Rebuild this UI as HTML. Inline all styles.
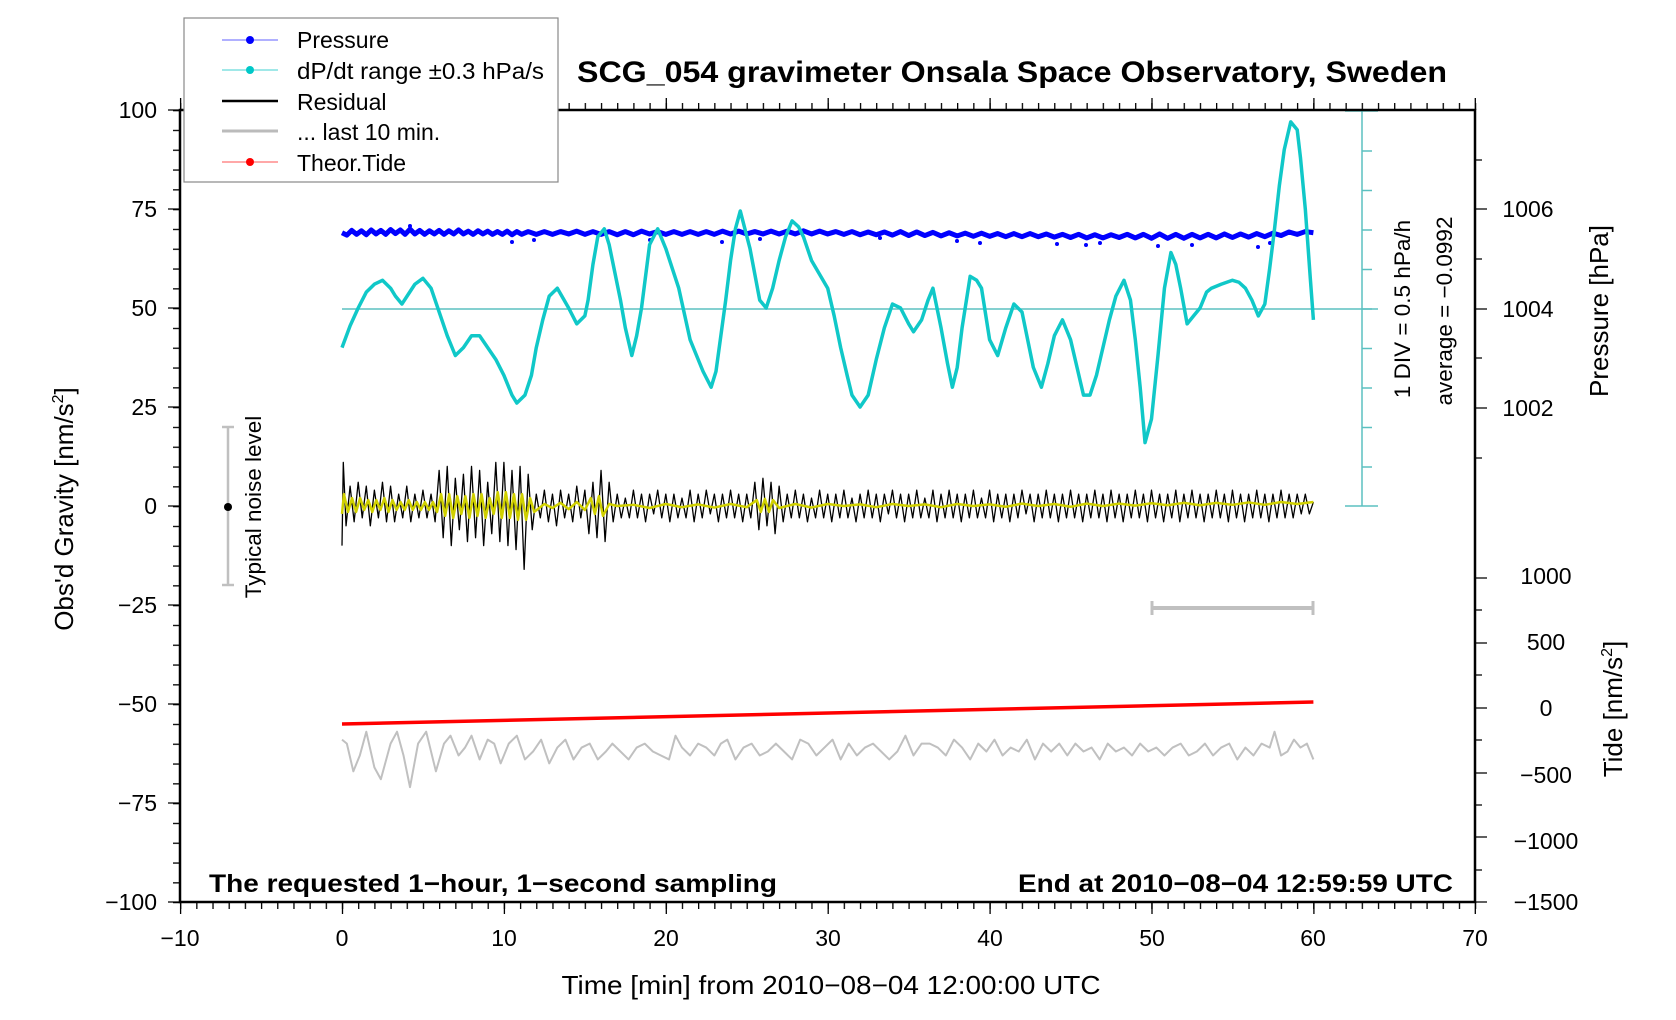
<!DOCTYPE html>
<html><head><meta charset="utf-8"><style>
html,body{margin:0;padding:0;background:#fff;}
svg{display:block;font-family:"Liberation Sans",Arial,sans-serif;}
.n{vector-effect:non-scaling-stroke;fill:none;stroke-linejoin:round;}
</style></head><body>
<svg width="1676" height="1020" viewBox="0 0 1676 1020" xmlns="http://www.w3.org/2000/svg">
<rect width="1676" height="1020" fill="#fff"/>
<defs>
<pattern id="px" x="180" y="0" width="16.1875" height="20" patternUnits="userSpaceOnUse"><rect x="0" y="0" width="1.3" height="20" fill="#000"/></pattern>
<pattern id="py" x="0" y="110" width="20" height="19.8" patternUnits="userSpaceOnUse"><rect x="0" y="0" width="20" height="1.3" fill="#000"/></pattern>
<pattern id="pt" x="0" y="110.75" width="20" height="39.5" patternUnits="userSpaceOnUse"><rect x="0" y="0" width="20" height="1.5" fill="#5cc0c0"/></pattern>
</defs>

<g stroke="#5cc0c0" stroke-width="1.5">
<line x1="342" y1="309" x2="1378" y2="309"/>
<line x1="1362" y1="111" x2="1362" y2="506"/>
<line x1="1345" y1="111" x2="1378" y2="111"/>
<line x1="1345" y1="506" x2="1378" y2="506"/>
</g>
<rect x="1362" y="140" width="10" height="360" fill="url(#pt)"/>

<g stroke="#c0c0c0" stroke-width="2.5">
<line x1="228" y1="427" x2="228" y2="585"/><line x1="222" y1="427" x2="234" y2="427"/><line x1="222" y1="585" x2="234" y2="585"/>
</g>
<circle cx="228" cy="507" r="4" fill="#000"/>
<g stroke="#c0c0c0"><line x1="1152" y1="608" x2="1313" y2="608" stroke-width="4"/><line x1="1152" y1="601" x2="1152" y2="615" stroke-width="3"/><line x1="1313" y1="601" x2="1313" y2="615" stroke-width="3"/></g>

<!-- pressure scatter dots -->
<g fill="#0000ff">
<circle cx="512" cy="242" r="2"/><circle cx="534" cy="240" r="2"/><circle cx="722" cy="242" r="2"/><circle cx="760" cy="239" r="2"/>
<circle cx="957" cy="241" r="2"/><circle cx="980" cy="243" r="2"/><circle cx="1086" cy="245" r="2"/><circle cx="1100" cy="243" r="2"/>
<circle cx="1158" cy="246" r="2"/><circle cx="1192" cy="245" r="2"/><circle cx="1258" cy="247" r="2"/><circle cx="1270" cy="243" r="2"/>
<circle cx="1057" cy="244" r="2"/><circle cx="880" cy="238" r="2"/><circle cx="410" cy="226" r="2"/><circle cx="650" cy="240" r="2"/>
</g>

<g transform="matrix(16.19 0 0 -3.96 342 506)">
<polyline class="n" stroke="#0000ff" stroke-width="5" points="0,69 0.3,68.4 0.6,69.6 0.9,68.6 1.2,69.5 1.5,68.5 1.8,69.7 2.1,68.7 2.4,69.6 2.7,68.6 3,69.8 3.3,68.8 3.6,69.7 3.9,68.6 4.2,69.9 4.5,68.7 4.8,69.6 5.1,68.6 5.4,69.5 5.7,68.7 6,69.6 6.3,68.6 6.6,69.5 6.9,68.7 7.2,69.7 7.5,68.7 7.8,69.4 8.1,68.6 8.4,69.5 8.7,68.7 9,69.4 9.3,68.6 9.6,69.3 9.9,68.6 10.2,69.4 10.5,68.5 10.8,69.3 11.1,68.6 11.5,69.3 12,68.6 12.5,69.3 13,68.6 13.5,69.3 14,68.7 14.5,69.4 15,68.6 15.5,69.3 16,68.6 16.5,69.3 17,68.5 17.5,69.3 18,68.5 18.5,69.4 19,68.7 19.5,69.3 20,68.6 20.5,69.3 21,68.6 21.5,69.3 22,68.6 22.5,69.3 23,68.6 23.5,69.4 24,68.7 24.5,69.4 25,68.7 25.5,69.3 26,68.7 26.5,69.4 27,68.7 27.5,69.4 28,68.7 28.5,69.5 29,68.7 29.5,69.4 30,68.7 30.5,69.3 31,68.6 31.5,69.3 32,68.5 32.5,69.2 33,68.5 33.5,69.2 34,68.4 34.5,69.3 35,68.3 35.5,69.2 36,68.3 36.5,69.1 37,68.2 37.5,69 38,68.2 38.5,68.9 39,68.1 39.5,68.9 40,68.1 40.5,68.8 41,68 41.5,68.8 42,68 42.5,68.8 43,68 43.5,68.7 44,67.9 44.5,68.6 45,67.8 45.5,68.6 46,67.7 46.5,68.5 47,67.7 47.5,68.5 48,67.8 48.5,68.6 49,67.7 49.5,68.6 50,67.6 50.5,68.7 51,67.6 51.5,68.6 52,67.6 52.5,68.6 53,67.7 53.5,68.6 54,67.7 54.5,68.7 55,67.8 55.5,68.7 56,67.9 56.5,68.8 57,68 57.5,68.9 58,68.3 58.5,69.2 59,68.6 59.5,69.3 60,69"/>
<polyline class="n" stroke="#10c8c8" stroke-width="3.5" points="0,40 0.5,45.5 1,50 1.5,54 2,56 2.5,57 3,55 3.3,53 3.7,51 4.1,53.5 4.5,56 5,57.5 5.5,55 6,49 6.5,43 7,38 7.5,40 8,43 8.5,43 9,40 9.5,37 10,33 10.5,28 10.8,26 11.3,28 11.7,33 12,40 12.4,47 12.8,53 13.3,55 14,50 14.5,46 15,48 15.2,52 15.5,61 15.8,68 16.2,70 16.5,66 16.8,60 17.2,52 17.5,45 17.9,38 18.2,43 18.5,50 19,66 19.5,70 20,65 20.4,60 20.8,55 21.5,42 22,37 22.3,34 22.8,30 23.1,34 23.3,40 23.7,52 24,62 24.3,70 24.6,74.5 25.2,65 25.8,52 26.2,50 26.6,55 27,62 27.4,68 27.8,72 28.2,70.5 28.5,68 29,62 29.5,58.5 30,55 30.4,48 30.8,40 31.2,33 31.5,28 32,25 32.5,28 33,37 33.5,45 34,51 34.5,50 35,46 35.3,44 35.8,47 36.2,52 36.5,55 37,45 37.4,36 37.7,30 38,35 38.3,45 38.8,58 39.2,57 39.5,55 40,42 40.5,38 41,45 41.5,51 42,49 42.4,41 42.7,35 43.2,30 43.6,36 44,43 44.5,47 45,42 45.4,35 45.8,28 46.2,28 46.6,33 47,40 47.4,47 47.8,53 48.3,57 48.7,52 49,42 49.3,30 49.6,16 50,22 50.4,38 50.8,55 51.2,64 51.5,61 51.8,55 52.2,46 52.6,48 53,50 53.4,54 53.7,55 54.3,56 55,57 55.4,56.5 55.8,55 56.2,52 56.6,48 57,51 57.3,60 57.6,70 57.9,81 58.2,90 58.6,97 59,95 59.2,88 59.5,75 59.8,58 60,47"/>
<polyline class="n" stroke="#000" stroke-width="1.3" points="0,-10 0.08,11 0.25,-5 0.5,5 0.75,-4 1,6 1.25,-3 1.5,5 1.75,-5 2,4 2.25,-3 2.5,6 2.75,-4 3,5 3.25,-4 3.5,3 3.75,-3 4,5 4.25,-4 4.5,3 4.75,-3 5,4 5.25,-3 5.5,3 5.75,-4 6,9 6.25,-8 6.5,10 6.75,-10 7,7 7.25,-6 7.5,8 7.75,-9 8,10 8.25,-8 8.5,9 8.75,-10 9,6 9.25,-7 9.5,11 9.75,-9 10,11 10.25,-10 10.5,9 10.75,-11 11,10 11.25,-16 11.5,8 11.75,-6 12,3 12.25,-3 12.5,4 12.75,-4 13,3 13.25,-5 13.5,4 13.75,-3 14,3 14.25,-4 14.5,5 14.75,-3 15,4 15.25,-7 15.5,6 15.75,-8 16,9 16.25,-9 16.5,6 16.75,-4 17,3 17.25,-3 17.5,2 17.75,-3 18,4 18.25,-3 18.5,3 18.75,-4 19,3 19.25,-2 19.5,4 19.75,-3 20,3 20.25,-4 20.5,3 20.75,-3 21,2 21.25,-3 21.5,4 21.75,-4 22,3 22.25,-3 22.5,4 22.75,-2 23,3 23.25,-4 23.5,3 23.75,-3 24,4 24.25,-3 24.5,3 24.75,-4 25,3 25.25,-3 25.5,6 25.75,-6 26,7 26.25,-5 26.5,6 26.75,-7 27,5 27.25,-4 27.5,3 27.75,-3 28,4 28.25,-3 28.5,3 28.75,-4 29,2 29.25,-3 29.5,4 29.75,-3 30,3 30.25,-4 30.5,3 30.75,-3 31,4 31.25,-3 31.5,2 31.75,-4 32,3 32.25,-3 32.5,4 32.75,-3 33,3 33.25,-4 33.5,3 33.75,-2 34,4 34.25,-3 34.5,3 34.75,-4 35,3 35.25,-3 35.5,4 35.75,-3 36,2 36.25,-3 36.5,4 36.75,-4 37,3 37.25,-3 37.5,4 37.75,-3 38,3 38.25,-4 38.5,3 38.75,-3 39,4 39.25,-3 39.5,2 39.75,-3 40,4 40.25,-4 40.5,3 40.75,-3 41,3 41.25,-4 41.5,3 41.75,-3 42,4 42.25,-2 42.5,3 42.75,-4 43,3 43.25,-3 43.5,4 43.75,-3 44,3 44.25,-4 44.5,3 44.75,-3 45,4 45.25,-3 45.5,3 45.75,-4 46,3 46.25,-3 46.5,4 46.75,-3 47,3 47.25,-4 47.5,4 47.75,-3 48,3 48.25,-4 48.5,3 48.75,-3 49,4 49.25,-3 49.5,3 49.75,-4 50,4 50.25,-3 50.5,3 50.75,-4 51,3 51.25,-3 51.5,4 51.75,-4 52,3 52.25,-3 52.5,4 52.75,-3 53,3 53.25,-4 53.5,3 53.75,-3 54,4 54.25,-3 54.5,3 54.75,-4 55,4 55.25,-3 55.5,3 55.75,-4 56,3 56.25,-3 56.5,4 56.75,-3 57,3 57.25,-4 57.5,3 57.75,-3 58,4 58.25,-3 58.5,3 58.75,-3 59,3 59.25,-2 59.5,3 59.75,-2 60,1"/>
<polyline class="n" stroke="#d0d000" stroke-width="2.5" points="0,-2 0.12,3 0.37,-1.5 0.62,2 0.87,-1.5 1.12,2 1.37,-1 1.62,1.5 1.87,-1.5 2.12,1.5 2.37,-1 2.62,2 2.87,-1.5 3.12,1.5 3.37,-1 3.62,1 3.87,-1 4.12,1.5 4.37,-1 4.62,1 4.87,-1 5.12,1 5.37,-1 5.62,1 5.87,-1.5 6.12,3 6.37,-2.5 6.62,3 6.87,-3 7.12,2.5 7.37,-2 7.62,2.5 7.87,-3 8.12,3 8.37,-2.5 8.62,3 8.87,-3 9.12,2 9.37,-2 9.62,3.5 9.87,-3 10.12,3.5 10.37,-3 10.62,3 10.87,-3.5 11.12,3 11.37,-3.5 11.62,2 11.87,-1.5 12.5,0.5 13,-0.5 13.5,0.8 14,-0.8 14.5,1 15,-1 15.37,2 15.62,-2 15.87,2.5 16.12,-2.5 16.5,0.5 17,0 18,0.3 19,-0.5 20,0.5 21,-0.3 22,0.4 23,-0.4 24,0.5 25,-0.3 25.62,1.5 25.87,-1.5 26.12,1.8 26.37,-1.5 26.62,1.5 27,-0.5 28,0.5 29,-0.4 30,0.5 31,0 32,0.4 33,-0.3 34,0.5 35,0 36,0.4 37,-0.3 38,0.5 39,0 40,0.4 41,-0.2 42,0.6 43,0 44,0.5 45,-0.2 46,0.6 47,0 48,0.6 49,0.1 50,0.7 51,0.2 52,0.8 53,0.2 54,0.8 55,0.3 56,0.9 57,0.3 58,1 59,0.5 60,1"/>
<polyline class="n" stroke="#c0c0c0" stroke-width="2" points="0,-59 0.3,-60 0.7,-67 1.1,-63 1.5,-57 2,-66 2.4,-69 3,-60 3.4,-57 3.8,-63 4.2,-71 4.7,-60 5.2,-57 5.8,-67 6.3,-60 6.7,-58 7.2,-63 7.6,-61 8,-58 8.5,-64 9,-59 9.4,-60 9.8,-65 10.3,-60 10.8,-58 11.3,-64 11.8,-62 12.3,-59 12.8,-65 13.3,-61 13.8,-59 14.3,-64 14.8,-61 15.3,-60 15.8,-64 16.3,-62 16.7,-60 17.2,-62 17.7,-64 18.2,-61 18.7,-60 19.2,-62 19.7,-63 20.2,-64 20.6,-58 21,-61 21.5,-63 22,-60 22.5,-61 23,-63 23.4,-60 23.8,-59 24.3,-64 24.8,-61 25.3,-60 25.8,-63 26.3,-62 26.8,-60 27.3,-62 27.8,-64 28.3,-59 28.8,-60 29.3,-63 29.8,-61 30.3,-59 30.8,-64 31.3,-60 31.8,-63 32.3,-61 32.8,-60 33.3,-62 33.8,-64 34.3,-62 34.8,-58 35.3,-63 35.8,-60 36.3,-60 36.8,-61 37.3,-63 37.8,-59 38.3,-61 38.8,-64 39.3,-60 39.8,-62 40.3,-59 40.8,-63 41.3,-61 41.8,-62 42.3,-59 42.8,-64 43.3,-60 43.8,-62 44.3,-60 44.8,-63 45.3,-60 45.8,-62 46.3,-61 46.8,-64 47.3,-60 47.8,-62 48.3,-61 48.8,-63 49.3,-60 49.8,-62 50.3,-61 50.8,-63 51.3,-61 51.8,-60 52.3,-63 52.8,-62 53.3,-60 53.8,-63 54.3,-61 54.8,-60 55.3,-64 55.8,-61 56.3,-63 56.8,-60 57.3,-61 57.6,-57 58,-63 58.4,-62 58.8,-59 59.2,-61 59.6,-60 60,-64"/>
<line class="n" x1="0" y1="-55.05" x2="60" y2="-49.5" stroke="#ff0000" stroke-width="3.5"/>
</g>

<rect x="180" y="110" width="1295" height="792" fill="none" stroke="#000" stroke-width="2.5"/>
<rect x="179.4" y="902" width="1297" height="7" fill="url(#px)"/>
<rect x="179.4" y="103" width="1297" height="7" fill="url(#px)"/>
<rect x="173" y="109.4" width="7" height="794" fill="url(#py)"/>
<g stroke="#000" stroke-width="1.3">
<path d="M180.6,902v12M342.5,902v12M504.4,902v12M666.3,902v12M828.2,902v12M990.1,902v12M1152,902v12M1313.9,902v12M1475.3,902v12"/>
<path d="M180.6,110v-12M342.5,110v-12M504.4,110v-12M666.3,110v-12M828.2,110v-12M990.1,110v-12M1152,110v-12M1313.9,110v-12M1475.3,110v-12"/>
<path d="M180,110h-12M180,209h-12M180,308h-12M180,407h-12M180,506h-12M180,605h-12M180,704h-12M180,803h-12M180,902h-12"/>
<path d="M1475,160h7M1475,209h12M1475,259h7M1475,309h12M1475,358h7M1475,408h12M1475,458h7"/>
<path d="M1475,578h12M1475,610h7M1475,643h12M1475,675h7M1475,708h12M1475,740h7M1475,773h12M1475,805h7M1475,837h12M1475,870h7M1475,902h12"/>
</g>

<text x="1012" y="82" font-size="30" font-weight="bold" text-anchor="middle" textLength="870" lengthAdjust="spacingAndGlyphs">SCG_054 gravimeter Onsala Space Observatory, Sweden</text>
<g font-size="23" text-anchor="end">
<text x="157" y="118">100</text><text x="157" y="217">75</text><text x="157" y="316">50</text>
<text x="157" y="415">25</text><text x="157" y="514">0</text><text x="157" y="613">−25</text>
<text x="157" y="712">−50</text><text x="157" y="811">−75</text><text x="157" y="910">−100</text>
</g>
<g font-size="23" text-anchor="middle">
<text x="180" y="946">−10</text><text x="342" y="946">0</text><text x="504" y="946">10</text>
<text x="666" y="946">20</text><text x="828" y="946">30</text><text x="990" y="946">40</text>
<text x="1152" y="946">50</text><text x="1313" y="946">60</text><text x="1475" y="946">70</text>
</g>
<g font-size="23" text-anchor="middle">
<text x="1528" y="217">1006</text><text x="1528" y="317">1004</text><text x="1528" y="416">1002</text>
<text x="1546" y="584">1000</text><text x="1546" y="650">500</text><text x="1546" y="716">0</text>
<text x="1546" y="783">−500</text><text x="1546" y="849">−1000</text><text x="1546" y="910">−1500</text>
</g>
<text x="831" y="994" font-size="26" text-anchor="middle" textLength="539" lengthAdjust="spacingAndGlyphs">Time [min] from 2010−08−04 12:00:00 UTC</text>
<text transform="translate(73,509) rotate(-90)" font-size="26" text-anchor="middle">Obs'd Gravity [nm/s<tspan font-size="16" dy="-10">2</tspan><tspan dy="10">]</tspan></text>
<text transform="translate(1608,311) rotate(-90)" font-size="26" text-anchor="middle">Pressure [hPa]</text>
<text transform="translate(1622,709) rotate(-90)" font-size="26" text-anchor="middle">Tide [nm/s<tspan font-size="16" dy="-10">2</tspan><tspan dy="10">]</tspan></text>
<text transform="translate(1410,309) rotate(-90)" font-size="22.5" text-anchor="middle">1 DIV = 0.5 hPa/h</text>
<text transform="translate(1452,311) rotate(-90)" font-size="22.5" text-anchor="middle">average = −0.0992</text>
<text transform="translate(261,507) rotate(-90)" font-size="22.5" text-anchor="middle">Typical noise level</text>
<text x="209" y="892" font-size="25" font-weight="bold" textLength="568" lengthAdjust="spacingAndGlyphs">The requested 1−hour, 1−second sampling</text>
<text x="1018" y="892" font-size="25" font-weight="bold" textLength="435" lengthAdjust="spacingAndGlyphs">End at 2010−08−04 12:59:59 UTC</text>

<rect x="184" y="18" width="374" height="164" fill="#fff" stroke="#888" stroke-width="1.2"/>
<g font-size="23">
<line x1="222" y1="40" x2="278" y2="40" stroke="#6060ff" stroke-width="1"/><circle cx="250" cy="40" r="4" fill="#0000ff"/>
<text x="297" y="48">Pressure</text>
<line x1="222" y1="70" x2="278" y2="70" stroke="#40d0d0" stroke-width="1"/><circle cx="250" cy="70" r="4" fill="#00c8c8"/>
<text x="297" y="79" textLength="247" lengthAdjust="spacingAndGlyphs">dP/dt range ±0.3 hPa/s</text>
<line x1="222" y1="101" x2="278" y2="101" stroke="#000" stroke-width="2.5"/>
<text x="297" y="110">Residual</text>
<line x1="222" y1="131" x2="278" y2="131" stroke="#bbb" stroke-width="3"/>
<text x="297" y="140">... last 10 min.</text>
<line x1="222" y1="162" x2="278" y2="162" stroke="#ff5050" stroke-width="1"/><circle cx="250" cy="162" r="4" fill="#ff0000"/>
<text x="297" y="171">Theor.Tide</text>
</g>
</svg>
</body></html>
